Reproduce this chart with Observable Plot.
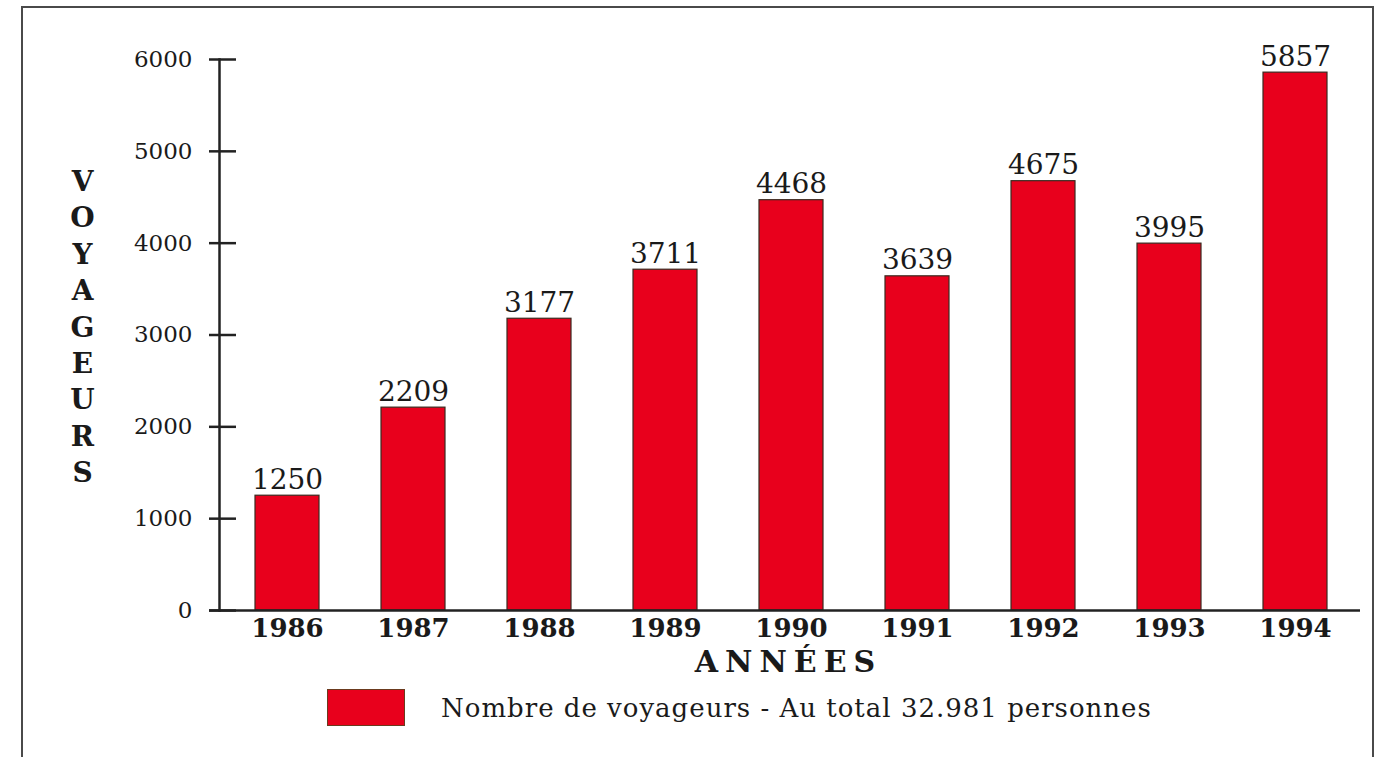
<!DOCTYPE html>
<html>
<head>
<meta charset="utf-8">
<script src="https://cdn.jsdelivr.net/npm/d3@7"></script>
<script src="https://cdn.jsdelivr.net/npm/@observablehq/plot@0.6"></script>
<style>
  html, body { margin: 0; padding: 0; background: #fff; overflow: hidden; }
  body { width: 1383px; height: 757px; position: relative; font-family: "DejaVu Serif", serif; color: #1a1a1a; }
  #border { position: absolute; left: 21px; top: 6px; width: 1353px; height: 800px;
            border: 2px solid #4a4a4a; border-bottom: none; box-sizing: border-box; }
  #chart { position: absolute; left: 0; top: 0; }
  #legend { position: absolute; left: 327px; top: 689px; display: flex; align-items: center; }
  #legend .sw { width: 78px; height: 37px; background: #e8001c; border: 1px solid #6b3a1e; box-sizing: border-box; }
  #legend .lb { margin-left: 36px; font-family: "DejaVu Serif", serif; font-size: 26px; letter-spacing: 1px; color: #1a1a1a; white-space: nowrap; }
  g[aria-description="annees"] text { letter-spacing: 7px; }
</style>
</head>
<body>
<div id="border"></div>
<div id="chart"></div>
<div id="legend"><div class="sw"></div><div class="lb"></div></div>
<script>
const years = ["1986", "1987", "1988", "1989", "1990", "1991", "1992", "1993", "1994"];
const voyageurs = [1250, 2209, 3177, 3711, 4468, 3639, 4675, 3995, 5857];
const yTicks = [0, 1000, 2000, 3000, 4000, 5000, 6000];
const xTitle = "ANNÉES";
const yTitle = "VOYAGEURS";
const legendLabel = "Nombre de voyageurs - Au total 32.981 personnes";
const barColor = "#e8001c";

const data = years.map((y, i) => ({year: y, value: voyageurs[i]}));

const chart = Plot.plot({
  width: 1383,
  height: 680,
  marginLeft: 219,
  marginRight: 20,
  marginTop: 59,
  marginBottom: 70,
  style: {fontFamily: "DejaVu Serif, serif", color: "#1a1a1a", background: "transparent", overflow: "visible"},
  x: {domain: years, paddingInner: 0.494, paddingOuter: 0.269, label: null},
  y: {domain: [0, 6000], label: null},
  marks: [
    Plot.barY(data, {x: "year", y: "value", fill: barColor, stroke: "#3a2a20", strokeWidth: 1.2}),
    Plot.text(data, {x: "year", y: "value", text: d => String(d.value), dy: -7, lineAnchor: "bottom", fontSize: 28, fill: "#1a1a1a"}),
    Plot.frame({anchor: "left", stroke: "#222", strokeWidth: 2.5}),
    Plot.ruleY([0], {stroke: "#222", strokeWidth: 2.5, insetLeft: -10, insetRight: 3}),
    Plot.axisY({ticks: yTicks, tickSize: 27, dx: 17, tickFormat: () => "", stroke: "#222", strokeWidth: 2.5, label: null}),
    Plot.axisY({ticks: yTicks, tickSize: 0, tickPadding: 27, fontSize: 23, tickFormat: d => String(d), label: null}),
    Plot.axisX({tickSize: 0, tickPadding: 8, fontSize: 26, fontWeight: "bold", label: null}),
    Plot.text([xTitle], {text: d => d, frameAnchor: "bottom", dx: -3, dy: 52, lineAnchor: "middle", fontSize: 30, fontWeight: "bold", fill: "#1a1a1a", ariaDescription: "annees"}),
    Plot.text([yTitle.split("").join("\n")], {text: d => d, frameAnchor: "left", dx: -137, dy: -10, textAnchor: "middle", lineAnchor: "middle", lineHeight: 1.3, fontSize: 28, fontWeight: "bold", fill: "#1a1a1a"})
  ]
});
document.getElementById("chart").appendChild(chart);
document.querySelector("#legend .lb").textContent = legendLabel;
</script>
</body>
</html>
